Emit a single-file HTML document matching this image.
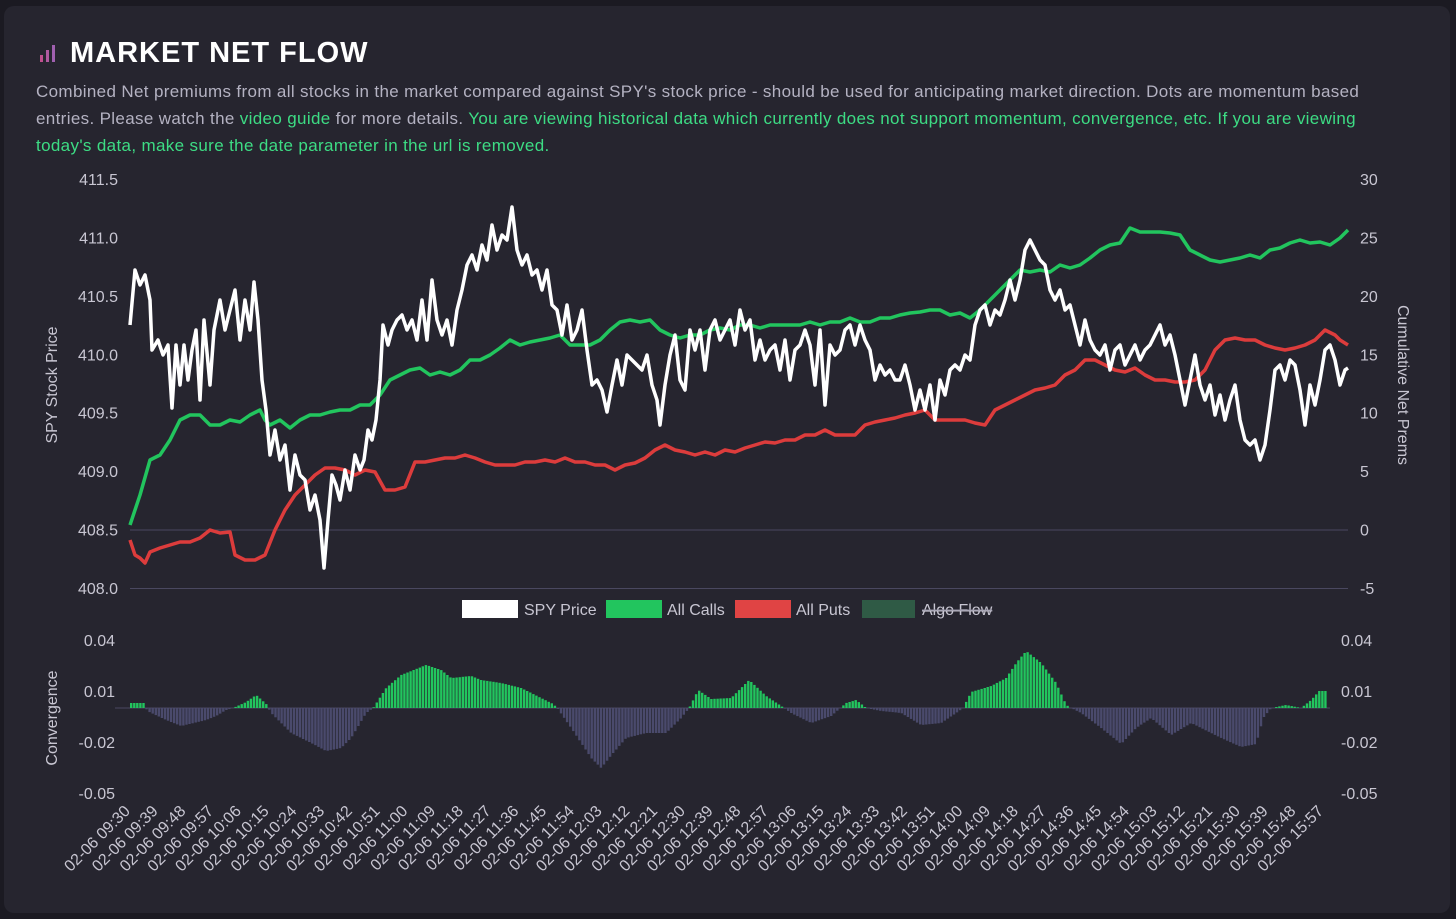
<!DOCTYPE html>
<html><head><meta charset="utf-8"><style>
html,body{margin:0;padding:0;background:#1b1a22;width:1456px;height:919px;overflow:hidden;font-family:"Liberation Sans",sans-serif}
.card{position:absolute;left:4px;top:6px;width:1446px;height:907px;background:#26252f;border-radius:10px}
.title{position:absolute;left:70px;top:37px;color:#fff;font-size:29px;font-weight:bold;letter-spacing:1px}
.desc{position:absolute;left:36px;top:78px;width:1372px;color:#b4b2c2;font-size:17px;line-height:27px;letter-spacing:0.35px}
.g{color:#3ddc84}
svg{position:absolute;left:0;top:0}
</style></head><body>
<div class="card"></div>
<svg width="1456" height="919" id="s">
<g fill="#c0508f"><rect x="40" y="55" width="3" height="7"/><rect x="46" y="50" width="3" height="12" fill="#b05aa0"/><rect x="52" y="45" width="3" height="17" fill="#a060b0"/></g>
</svg>
<div class="title">MARKET NET FLOW</div>
<div class="desc">Combined Net premiums from all stocks in the market compared against SPY's stock price - should be used for anticipating market direction. Dots are momentum based entries. Please watch the <span class="g">video guide</span> for more details. <span class="g">You are viewing historical data which currently does not support momentum, convergence, etc. If you are viewing today's data, make sure the date parameter in the url is removed.</span></div>
<script>
const s=document.getElementById('s');let h='';
const T=(x,y,t,a,extra)=>h+=`<text x="${x}" y="${y}" fill="#c8c6d2" font-size="16" text-anchor="${a}" font-family="Liberation Sans" ${extra||''}>${t}</text>`;
const L=['411.5','411.0','410.5','410.0','409.5','409.0','408.5','408.0'],R=['30','25','20','15','10','5','0','-5'];
for(let i=0;i<8;i++){const y=179+i*58.43;T(118,y+6,L[i],'end');T(1360,y+6,R[i],'start');}
h+=`<line x1="130" y1="530" x2="1348" y2="530" stroke="#4a4860"/><line x1="130" y1="588.5" x2="1348" y2="588.5" stroke="#4a4860"/>`;
T(57,385,'SPY Stock Price','middle','transform="rotate(-90 57 385)" font-size="17"');
T(1398,385,'Cumulative Net Prems','middle','transform="rotate(90 1398 385)" font-size="17"');
h+=`<rect x="462" y="600" width="56" height="18" fill="#fff"/><rect x="606" y="600" width="56" height="18" fill="#22c55e"/><rect x="735" y="600" width="56" height="18" fill="#e04444"/><rect x="862" y="600" width="53" height="18" fill="#2f5a45"/>`;
T(524,615,'SPY Price','start','fill="#8a889a" font-size="15"');T(667,615,'All Calls','start','fill="#8a889a" font-size="15"');T(796,615,'All Puts','start','fill="#8a889a" font-size="15"');T(922,615,'Algo Flow','start','fill="#8a889a" font-size="15" text-decoration="line-through"');
h+=`<line x1="922" y1="610" x2="992" y2="610" stroke="#8a889a"/>`;
const BL=['0.04','0.01','-0.02','-0.05'];for(let i=0;i<4;i++){const y=640+i*51;T(115,y+6,BL[i],'end');T(1341,y+6,BL[i],'start');}
T(57,718,'Convergence','middle','transform="rotate(-90 57 718)" font-size="17"');
const W="130,325 135,270 140,285 145,275 150,300 152,350 158,340 163,355 168,345 172,408 176,345 180,385 184,345 188,380 192,350 196,330 200,400 204,320 210,385 214,330 220,300 225,330 230,310 235,290 240,340 245,300 250,330 254,282 258,320 262,380 266,410 270,455 275,430 280,460 285,445 290,490 295,455 300,475 305,480 310,510 315,495 320,520 324,568 328,520 332,475 336,485 340,500 345,470 350,490 355,455 360,470 364,460 368,430 372,440 376,420 380,380 383,325 388,345 392,330 397,320 402,315 407,330 412,320 417,340 422,300 427,340 432,280 437,320 442,335 447,320 452,345 457,310 462,290 467,265 472,255 477,270 482,245 487,260 492,225 497,250 502,235 507,240 512,207 517,250 522,265 527,255 532,275 537,270 542,290 547,270 552,305 557,310 562,335 567,305 572,340 577,330 582,310 587,350 592,385 597,380 602,390 607,412 612,385 617,360 622,385 627,355 632,360 637,365 642,370 647,355 652,385 657,400 660,425 665,385 670,355 675,335 680,380 685,390 690,330 695,350 700,330 705,370 710,330 715,320 720,340 725,330 730,320 735,345 740,310 745,330 750,320 755,360 760,340 765,360 770,350 775,345 780,370 785,340 790,380 795,350 800,345 805,330 810,345 815,385 820,330 825,405 830,345 835,355 840,350 845,330 850,325 855,345 860,325 865,340 870,350 875,380 880,365 885,375 890,370 895,380 900,380 905,365 910,385 915,410 920,390 925,410 930,385 935,420 940,380 945,395 950,370 955,365 960,370 965,355 970,360 975,325 980,310 985,305 990,325 995,310 1000,315 1005,300 1010,280 1015,300 1020,280 1025,250 1030,240 1035,250 1040,260 1045,265 1050,290 1055,300 1060,290 1065,310 1070,305 1075,325 1080,345 1085,320 1090,340 1095,350 1100,355 1105,345 1110,370 1115,350 1120,345 1125,365 1130,355 1135,345 1140,360 1145,350 1150,345 1155,335 1160,325 1165,345 1170,335 1175,355 1180,380 1185,405 1190,380 1195,355 1200,385 1205,400 1210,385 1215,415 1220,395 1225,420 1230,400 1235,385 1240,420 1245,440 1250,445 1255,440 1260,460 1265,445 1270,410 1275,370 1280,365 1285,380 1290,360 1295,365 1300,390 1305,425 1310,385 1315,405 1320,380 1325,350 1330,345 1335,360 1340,385 1345,370 1348,368";
const G="130,525 140,495 150,460 160,455 170,440 180,420 190,415 200,415 210,425 220,425 230,420 240,422 250,415 260,410 265,420 270,425 280,420 290,428 300,420 310,415 320,415 330,412 340,410 350,410 360,405 370,405 380,395 390,380 400,375 410,370 420,368 430,375 440,372 450,375 460,370 470,360 480,360 490,355 500,348 510,340 520,345 530,342 540,340 550,338 560,335 570,345 580,345 590,345 600,340 610,330 620,322 630,320 640,322 650,320 660,330 670,335 680,338 690,335 700,335 710,330 720,328 730,330 740,325 750,325 760,328 770,325 780,325 790,325 800,325 810,322 820,325 830,322 840,322 850,318 860,322 870,322 880,318 890,318 900,315 910,313 920,312 930,310 940,310 950,315 960,313 970,318 980,310 990,300 1000,290 1010,280 1020,270 1030,272 1040,270 1050,272 1060,265 1070,268 1080,265 1090,258 1100,250 1110,245 1120,243 1130,228 1140,232 1150,232 1160,232 1170,233 1180,235 1190,250 1200,255 1210,260 1220,262 1230,260 1240,258 1250,255 1260,258 1270,250 1280,248 1290,243 1300,240 1310,243 1320,242 1330,245 1340,238 1348,230";
const Rd="130,540 135,555 140,558 145,563 150,552 160,548 170,545 180,542 190,542 200,538 210,530 220,533 230,532 235,555 245,560 255,560 265,555 275,530 285,510 295,495 305,485 315,475 325,468 335,468 345,470 355,475 365,470 375,472 385,490 395,490 405,487 415,462 425,462 435,460 445,458 455,458 465,455 475,458 485,462 495,465 505,465 515,465 525,462 535,462 545,460 555,462 565,458 575,462 585,462 595,465 605,465 615,470 625,465 635,463 645,458 655,450 665,445 675,450 685,452 695,455 705,452 715,455 725,450 735,452 745,448 755,445 765,442 775,443 785,440 795,440 805,435 815,435 825,430 835,435 845,435 855,435 865,425 875,422 885,420 895,418 905,415 915,413 925,410 935,420 945,420 955,420 965,420 975,423 985,425 995,410 1005,405 1015,400 1025,395 1035,390 1045,388 1055,385 1065,375 1075,370 1085,360 1095,360 1105,365 1115,370 1125,372 1135,368 1145,375 1155,380 1165,380 1175,382 1185,382 1195,380 1205,370 1215,350 1225,340 1235,338 1245,340 1255,340 1265,345 1275,348 1285,350 1295,348 1305,345 1315,340 1325,330 1335,335 1340,340 1348,345";
h+=`<polyline points="${G}" fill="none" stroke="#22c55e" stroke-width="3.5" stroke-linejoin="round"/>`;
h+=`<polyline points="${Rd}" fill="none" stroke="#dc3c3c" stroke-width="3.5" stroke-linejoin="round"/>`;
h+=`<polyline points="${W}" fill="none" stroke="#fff" stroke-width="3.5" stroke-linejoin="round"/>`;
const K=[[130,5],[143,5],[146,-3],[165,-12],[180,-18],[205,-12],[215,-8],[225,-2],[232,0],[245,6],[255,13],[265,4],[270,-5],[290,-25],[310,-35],[325,-43],[340,-40],[350,-30],[365,-5],[372,0],[385,20],[400,33],[425,43],[440,38],[450,30],[470,32],[480,28],[500,25],[520,20],[540,10],[552,4],[556,0],[570,-20],[590,-50],[600,-60],[612,-45],[625,-30],[645,-25],[665,-25],[680,-10],[688,0],[697,18],[710,9],[730,10],[748,28],[765,12],[780,2],[790,-5],[810,-15],[830,-8],[845,5],[855,8],[865,0],[880,-3],[900,-5],[920,-17],[940,-15],[955,-5],[962,0],[970,16],[990,22],[1005,30],[1015,45],[1025,57],[1040,45],[1055,25],[1065,3],[1070,0],[1080,-5],[1100,-20],[1120,-36],[1135,-20],[1150,-10],[1170,-27],[1190,-15],[1200,-20],[1220,-30],[1240,-39],[1255,-36],[1262,-10],[1270,0],[1285,3],[1300,0],[1310,8],[1318,17],[1326,17]];
function val(x){for(let i=0;i<K.length-1;i++){if(x>=K[i][0]&&x<=K[i+1][0]){const t=(x-K[i][0])/(K[i+1][0]-K[i][0]);return K[i][1]+t*(K[i+1][1]-K[i][1]);}}return 0;}
h+=`<line x1="115" y1="708" x2="1330" y2="708" stroke="#4a4860"/>`;
for(let x=130;x<=1326;x+=3.07){const v=val(x);if(Math.abs(v)<0.5)continue;
 if(v>0)h+=`<rect x="${x.toFixed(1)}" y="${(708-v).toFixed(1)}" width="2.4" height="${v.toFixed(1)}" fill="#22c55e"/>`;
 else h+=`<rect x="${x.toFixed(1)}" y="708" width="2.4" height="${(-v).toFixed(1)}" fill="#4a4a6c"/>`;}
for(let i=0;i<44;i++){const m=570+i*9;const hh=String(Math.floor(m/60)).padStart(2,'0'),mm=String(m%60).padStart(2,'0');const x=131+i*27.75,y=812;
 T(x,y,`02-06 ${hh}:${mm}`,'end',`transform="rotate(-45 ${x} ${y})" font-size="15.5"`);}
s.innerHTML+=h;
</script>
</body></html>
